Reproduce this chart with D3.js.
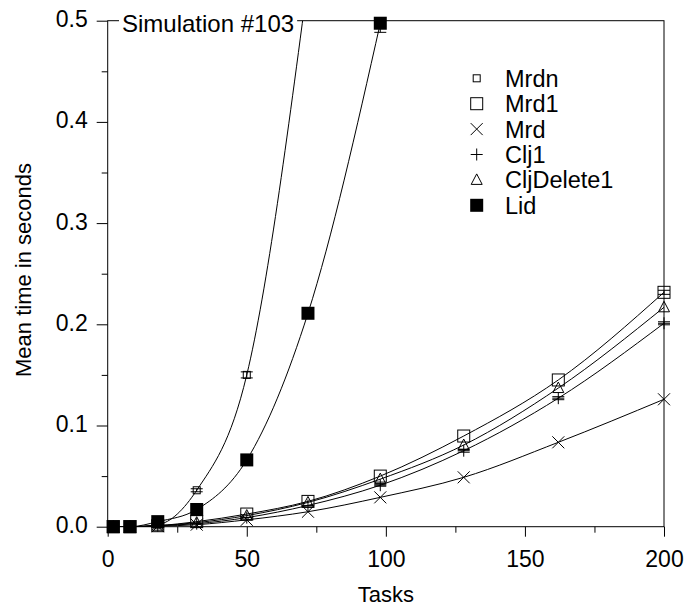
<!DOCTYPE html>
<html>
<head>
<meta charset="utf-8">
<script src="https://cdn.jsdelivr.net/npm/d3@7"></script>
<style>
  body { margin: 0; background: #fff; }
  text { font-family: "Liberation Sans", Arial, sans-serif; fill: #000; }
</style>
</head>
<body>
<script>
// Chart data
const tasks = [2, 8, 18, 32, 50, 72, 98, 128, 162, 200];
const mrdnValues = [0, 0, 0.002, 0.036, 0.150, 0.54];
const mrdnErr = [0, 0, 0, 0.0015, 0.003, 0];
const mrd1Values = [0, 0, 0.001, 0.005, 0.0125, 0.025, 0.050, 0.0896, 0.145, 0.2316];
const mrd1Err = [0, 0, 0, 0, 0, 0, 0, 0, 0, 0.002];
const mrdValues = [0, 0, 0.0005, 0.002, 0.0068, 0.0148, 0.029, 0.0488, 0.0834, 0.1259];
const clj1Values = [0, 0, 0.001, 0.003, 0.009, 0.021, 0.041, 0.0751, 0.127, 0.201];
const clj1Err = [0, 0, 0, 0, 0, 0, 0.001, 0.0015, 0.0015, 0.0015];
const cljDelete1Values = [0, 0, 0.001, 0.004, 0.011, 0.024, 0.047, 0.0807, 0.137, 0.2168];
const lidValues = [0, 0, 0.005, 0.017, 0.066, 0.2109, 0.4975];
const lidErr = [0, 0, 0, 0, 0, 0, 0.009];
const xTicks = [0, 50, 100, 150, 200];
const yTicks = [0.0, 0.1, 0.2, 0.3, 0.4, 0.5];
const seriesNames = ["Mrdn", "Mrd1", "Mrd", "Clj1", "CljDelete1", "Lid"];
const seriesShapes = ["smallSquare", "square", "x", "plus", "triangle", "filledSquare"];

// Layout constants
const WIDTH = 689;
const HEIGHT = 611;
const PLOT_LEFT = 107.7;
const PLOT_RIGHT = 664;
const PLOT_TOP = 20.7;
const PLOT_BOTTOM = 526.7;
const TICK_FONT = 23;
const LABEL_FONT = 22;
const LEGEND_FONT = 23.5;

var svg = d3.select("body").append("svg")
  .attr("width", WIDTH)
  .attr("height", HEIGHT);

var x = d3.scaleLinear().domain([0, 200]).range([PLOT_LEFT, PLOT_RIGHT]);
var y = d3.scaleLinear().domain([0, 0.5]).range([PLOT_BOTTOM, PLOT_TOP]);

svg.append("clipPath").attr("id", "plotClip")
  .append("rect")
  .attr("x", PLOT_LEFT).attr("y", PLOT_TOP)
  .attr("width", PLOT_RIGHT - PLOT_LEFT)
  .attr("height", PLOT_BOTTOM - PLOT_TOP);

// Axes (left and bottom), ticks point outwards
var xAxis = d3.axisBottom(x).tickValues(xTicks).tickSize(10).tickPadding(14)
  .tickFormat(d3.format("d"));
var xMinor = d3.axisBottom(x).tickValues([25, 75, 125, 175]).tickSize(6).tickFormat("");
var yAxis = d3.axisLeft(y).tickValues(yTicks).tickSize(11).tickPadding(9)
  .tickFormat(d3.format(".1f"));
var yMinor = d3.axisLeft(y).tickValues([0.05, 0.15, 0.25, 0.35, 0.45]).tickSize(6).tickFormat("");

var styleAxis = function(g)
{
  g.select(".domain").remove();
  g.selectAll("line").attr("stroke", "#000").attr("stroke-width", 1);
  g.selectAll("text").attr("font-size", TICK_FONT).attr("font-family", null);
}

svg.append("g").attr("transform", "translate(0," + PLOT_BOTTOM + ")").call(xAxis).call(styleAxis);
svg.append("g").attr("transform", "translate(0," + PLOT_BOTTOM + ")").call(xMinor).call(styleAxis);
svg.append("g").attr("transform", "translate(" + PLOT_LEFT + ",0)").call(yAxis).call(styleAxis)
  .selectAll("text").attr("dy", "0.26em");
svg.append("g").attr("transform", "translate(" + PLOT_LEFT + ",0)").call(yMinor).call(styleAxis);

// Frame around the plot
svg.append("rect")
  .attr("x", PLOT_LEFT).attr("y", PLOT_TOP)
  .attr("width", PLOT_RIGHT - PLOT_LEFT)
  .attr("height", PLOT_BOTTOM - PLOT_TOP)
  .attr("fill", "none")
  .attr("stroke", "#000")
  .attr("stroke-width", 1);

// Axis titles
svg.append("text")
  .attr("x", (PLOT_LEFT + PLOT_RIGHT) / 2)
  .attr("y", 602)
  .attr("text-anchor", "middle")
  .attr("font-size", LABEL_FONT)
  .text("Tasks");

svg.append("text")
  .attr("transform", "translate(31,270) rotate(-90)")
  .attr("text-anchor", "middle")
  .attr("font-size", LABEL_FONT)
  .text("Mean time in seconds");

// Marker drawing
var drawMarker = function(g, shape, cx, cy)
{
  if (shape == "smallSquare")
  {
    g.append("rect").attr("x", cx - 3.5).attr("y", cy - 3.5).attr("width", 7).attr("height", 7)
      .attr("fill", "none").attr("stroke", "#000");
  }
  else if (shape == "square")
  {
    g.append("rect").attr("x", cx - 6).attr("y", cy - 6).attr("width", 12).attr("height", 12)
      .attr("fill", "none").attr("stroke", "#000");
  }
  else if (shape == "filledSquare")
  {
    g.append("rect").attr("x", cx - 6.5).attr("y", cy - 6.5).attr("width", 13).attr("height", 13)
      .attr("fill", "#000");
  }
  else if (shape == "x")
  {
    g.append("path").attr("d", "M" + (cx - 6) + "," + (cy - 6) + "L" + (cx + 6) + "," + (cy + 6) +
      "M" + (cx - 6) + "," + (cy + 6) + "L" + (cx + 6) + "," + (cy - 6))
      .attr("stroke", "#000").attr("fill", "none");
  }
  else if (shape == "plus")
  {
    g.append("path").attr("d", "M" + (cx - 6) + "," + cy + "L" + (cx + 6) + "," + cy +
      "M" + cx + "," + (cy - 6) + "L" + cx + "," + (cy + 6))
      .attr("stroke", "#000").attr("fill", "none");
  }
  else if (shape == "triangle")
  {
    g.append("path").attr("d", "M" + cx + "," + (cy - 6) + "L" + (cx + 5.5) + "," + (cy + 4.5) +
      "L" + (cx - 5.5) + "," + (cy + 4.5) + "Z")
      .attr("stroke", "#000").attr("fill", "none");
  }
}

var line = d3.line()
  .x(d => x(d[0]))
  .y(d => y(d[1]))
  .curve(d3.curveMonotoneX);

var drawSeries = function(values, errors, shape)
{
  var pts = values.map((v, i) => [tasks[i], v, errors ? errors[i] : 0]);

  svg.append("path")
    .datum(pts)
    .attr("clip-path", "url(#plotClip)")
    .attr("d", line)
    .attr("fill", "none")
    .attr("stroke", "#000")
    .attr("stroke-width", 1);

  var g = svg.append("g");
  for (let i = 0; i < pts.length; i++)
  {
    if (pts[i][1] > 0.5) continue;
    let cx = x(pts[i][0]);
    let cy = y(pts[i][1]);
    let e = pts[i][2];
    if (e > 0)
    {
      let lo = y(pts[i][1] - e);
      let hi = Math.max(y(pts[i][1] + e), PLOT_TOP);
      g.append("path")
        .attr("d", "M" + cx + "," + hi + "L" + cx + "," + lo +
          "M" + (cx - 6) + "," + lo + "L" + (cx + 6) + "," + lo +
          (y(pts[i][1] + e) >= PLOT_TOP ? "M" + (cx - 6) + "," + hi + "L" + (cx + 6) + "," + hi : ""))
        .attr("stroke", "#000").attr("fill", "none");
    }
    drawMarker(g, shape, cx, cy);
  }
}

drawSeries(mrdValues, null, "x");
drawSeries(clj1Values, clj1Err, "plus");
drawSeries(cljDelete1Values, null, "triangle");
drawSeries(mrd1Values, mrd1Err, "square");
drawSeries(mrdnValues, mrdnErr, "smallSquare");
drawSeries(lidValues, lidErr, "filledSquare");

// Legend
const LEGEND_MARKER_X = 476.7;
const LEGEND_TEXT_X = 505;
const LEGEND_TOP = 78.3;
const LEGEND_STEP = 25.4;
var legend = svg.append("g");
for (let i = 0; i < seriesNames.length; i++)
{
  let ly = LEGEND_TOP + i * LEGEND_STEP;
  drawMarker(legend, seriesShapes[i], LEGEND_MARKER_X, ly);
  legend.append("text")
    .attr("x", LEGEND_TEXT_X)
    .attr("y", ly)
    .attr("dy", "0.36em")
    .attr("font-size", LEGEND_FONT)
    .text(seriesNames[i]);
}

// Title box sitting on the top frame line
var title = svg.append("g");
var titleText = title.append("text")
  .attr("x", 122)
  .attr("y", 32)
  .attr("font-size", 24)
  .text("Simulation #103");
var bb = titleText.node().getBBox();
title.insert("rect", "text")
  .attr("x", bb.x - 3)
  .attr("y", bb.y)
  .attr("width", bb.width + 6)
  .attr("height", bb.height)
  .attr("fill", "#fff");
</script>
</body>
</html>
